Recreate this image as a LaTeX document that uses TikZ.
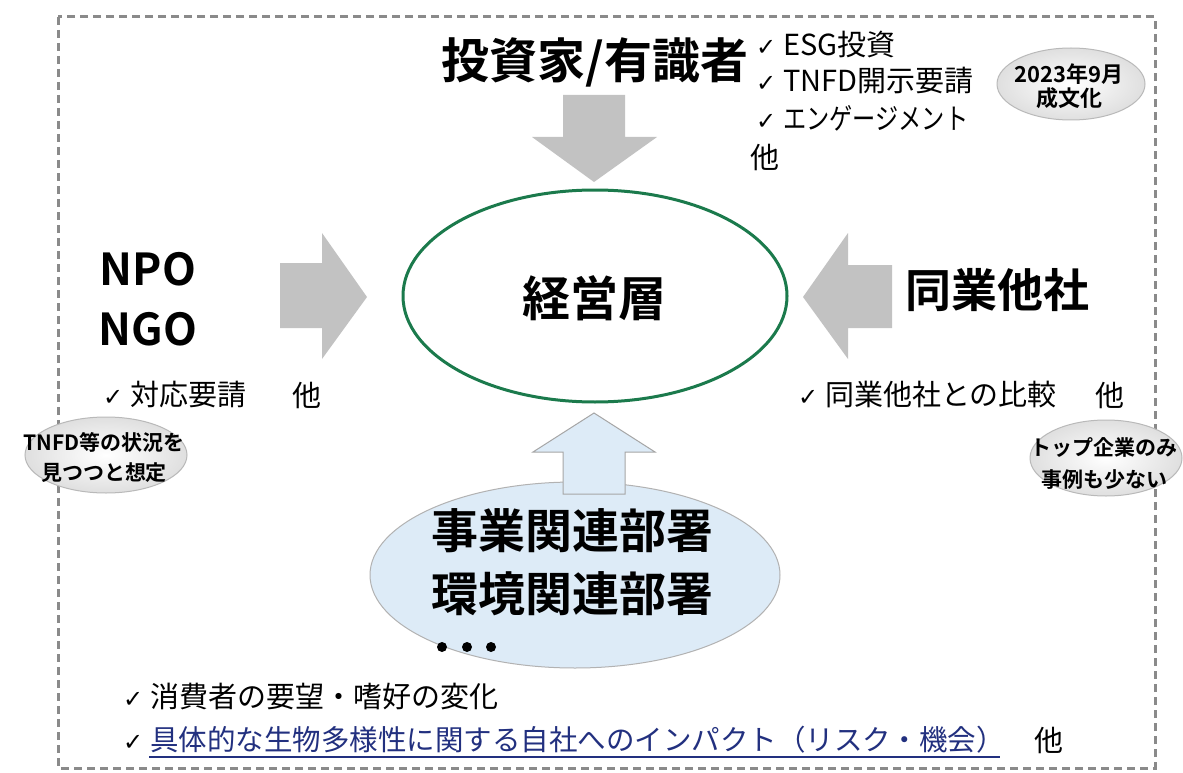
\documentclass[tikz,border=0pt]{standalone}
\usepackage{fontspec}
\usepackage{graphicx}
\setmainfont{Noto Sans CJK JP}[BoldFont={Noto Sans CJK JP Bold}]
\newfontfamily\symfont{DejaVu Sans}
\usetikzlibrary{shapes.geometric}
\definecolor{arrgray}{HTML}{C2C2C2}
\definecolor{mgreen}{HTML}{1B7A4C}
\definecolor{lightblue}{HTML}{DDEBF7}
\definecolor{navytxt}{HTML}{22307F}
\definecolor{framegray}{HTML}{8A8A8A}
\newcommand{\chk}{\makebox[27pt][l]{\symfont\fontsize{24}{24}\selectfont ✓}}
\begin{document}
\begin{tikzpicture}[x=1pt,y=-1pt,
  blockarrow/.style={fill=arrgray, draw=none},
  bluearrow/.style={fill=lightblue, draw=gray!70, line width=1pt},
  bigtxt/.style={font=\bfseries\fontsize{48}{54}\selectfont, inner sep=0pt},
  listtxt/.style={font=\fontsize{29}{34}\selectfont, anchor=west, inner sep=0pt},
  bubble/.style={ellipse, draw=gray!55, line width=1pt, inner color=white, outer color=gray!25},
  bubtxt/.style={font=\bfseries\fontsize{21}{30}\selectfont, align=center, inner sep=0pt}]

\useasboundingbox (0,0) rectangle (1183,773);
\fill[white] (0,0) rectangle (1183,773);
\draw[framegray, line width=3pt, dash pattern=on 8pt off 5pt] (58,17) rectangle (1155,768);

% bubbles
\node[bubble, minimum width=148pt, minimum height=72pt] (bub1) at (1071,84) {};
\node[bubble, minimum width=162pt, minimum height=76pt] (bub2) at (106,455) {};
\node[bubble, minimum width=152pt, minimum height=76pt] (bub3) at (1106,458) {};

% main ellipse
\node[ellipse, draw=mgreen, line width=3pt, minimum width=384pt, minimum height=212pt] (mgmt) at (595,296) {};
\node[bigtxt] (mgmttxt) at (594,298) {経営層};

% department ellipse
\node[ellipse, fill=lightblue, draw=gray!60, line width=1pt, minimum width=410pt, minimum height=186pt] (dept) at (575,575) {};

% block arrows
\fill[blockarrow] (563,95) -- (625,95) -- (625,137) -- (657,137) -- (594,182) -- (532,137) -- (563,137) -- cycle;
\fill[blockarrow] (280,263) -- (322,263) -- (322,233) -- (367,297) -- (322,359) -- (322,328) -- (280,328) -- cycle;
\fill[blockarrow] (892,265) -- (848,265) -- (848,233) -- (803,297) -- (848,359) -- (848,328) -- (892,328) -- cycle;
\draw[bluearrow] (563,494) -- (563,452) -- (533,452) -- (594,413) -- (655,452) -- (625,452) -- (625,494) -- cycle;

% headings
\node[bigtxt] (inv) at (595,62) {投資家/有識者};
\node[font=\bfseries\fontsize{44}{60}\selectfont, inner sep=0pt, align=center] (npo) at (148,299) {NPO\\NGO};
\node[font=\bfseries\fontsize{46}{54}\selectfont, inner sep=0pt] (peer) at (997,290) {同業他社};
\node[bigtxt, align=center, font=\bfseries\fontsize{47}{63}\selectfont] (depttxt) at (572,562) {事業関連部署\\環境関連部署};
\fill (442,647) circle (5pt);
\fill (467,647) circle (5pt);
\fill (491,647) circle (5pt);

% lists
\node[listtxt] (l1) at (756,45) {\chk ESG投資};
\node[listtxt] (l2) at (756,81) {\chk TNFD開示要請};
\node[listtxt] (l3) at (756,118) {\chk \scalebox{0.8}[1]{エンゲージメント}};
\node[listtxt] (l4) at (750,157) {他};
\node[listtxt] (l5) at (103,395) {\chk 対応要請};
\node[listtxt] (l5b) at (292,395) {他};
\node[listtxt] (l6) at (798,395) {\chk 同業他社との比較};
\node[listtxt] (l6b) at (1095,395) {他};
\node[listtxt] (l7) at (123,697) {\chk 消費者の要望・嗜好の変化};
\node[listtxt, font=\fontsize{28.5}{34}\selectfont] (l8) at (123,740) {\chk \textcolor{navytxt}{具体的な生物多様性に関する自社へのインパクト（リスク・機会）}};
\node[listtxt] (l9) at (1034,740) {他};
\draw[navytxt, line width=2pt] (149,757) -- (1000,757);

% bubble texts
\node[bubtxt, font=\bfseries\fontsize{22}{24}\selectfont] (bt1) at (1069,86) {2023年9月\\成文化};
\node[bubtxt] (bt2) at (104,457) {TNFD等の状況を\\見つつと想定};
\node[bubtxt, font=\bfseries\fontsize{21}{32}\selectfont] (bt3) at (1104,464) {トップ企業のみ\\事例も少ない};
\end{tikzpicture}
\end{document}
